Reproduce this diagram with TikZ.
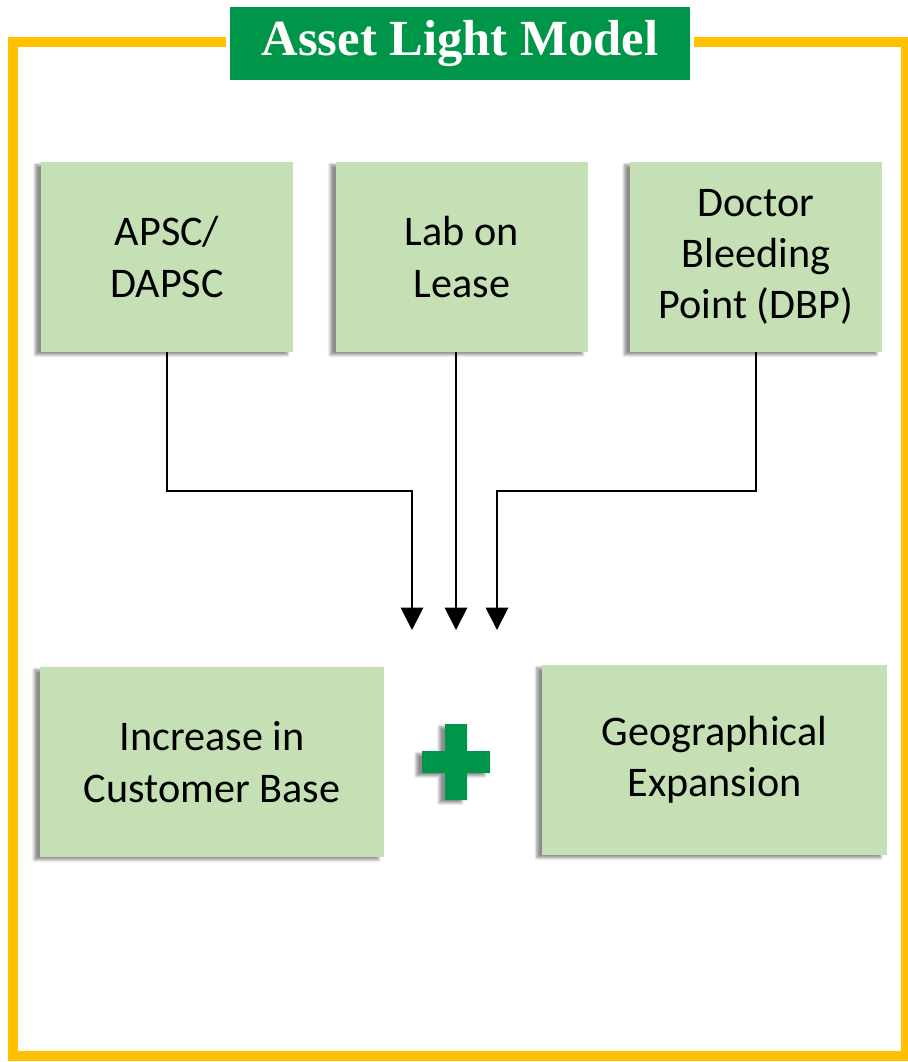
\documentclass[tikz,border=0pt]{standalone}
\usepackage{fontspec}
\setmainfont{Carlito}
\newfontfamily\titlefont{Liberation Serif}
\usetikzlibrary{arrows.meta,shadows.blur}

\definecolor{framey}{RGB}{255,192,0}
\definecolor{boxg}{RGB}{197,224,180}
\definecolor{darkg}{RGB}{0,150,73}

\begin{document}
\begin{tikzpicture}[
    x=0.025cm, y=-0.025cm,
    box/.style={
        fill=boxg,
        minimum width=6.3cm,
        minimum height=4.75cm,
        align=center,
        anchor=center,
        font=\fontsize{30}{36.5}\selectfont,
        blur shadow={shadow xshift=-4pt, shadow yshift=-2pt, shadow opacity=45, shadow blur steps=6}
    },
    title/.style={
        fill=darkg,
        draw=white,
        line width=3pt,
        text=white,
        minimum width=11.6cm,
        minimum height=1.925cm,
        font=\titlefont\bfseries\fontsize{36}{42}\selectfont
    },
    arrow/.style={-{Triangle[length=16pt,width=16pt]}, line width=1.4pt}
]
\useasboundingbox (0,0) rectangle (907,1062);

% Yellow frame
\draw[framey, line width=7pt] (13,42) rectangle (906,1056);

% Title
\node[title] (head) at (460,43.5) {Asset Light Model};

% Top row
\node[box] (apsc) at (167,257) {APSC/\\DAPSC};
\node[box] (lab)  at (462,257) {Lab on\\Lease};
\node[box] (dbp)  at (756,257) {Doctor\\Bleeding\\Point (DBP)};

% Arrow ends
\coordinate (inL) at (412,630);
\coordinate (inM) at (456,630);
\coordinate (inR) at (497,630);

% Connectors
\draw[arrow] (apsc.south)        -- ++(0,139) -| (inL);
\draw[arrow] (lab.south -| inM)  -- (inM);
\draw[arrow] (dbp.south)         -- ++(0,139) -| (inR);

% Bottom row
\node[box, minimum width=8.6cm] (cust) at (212,762) {Increase in\\Customer Base};
\node[box, minimum width=8.6cm] (geo)  at (714.5,760) {Geographical\\Expansion};

% Plus sign
\fill[darkg, blur shadow={shadow xshift=-4pt, shadow yshift=-2pt, shadow opacity=45, shadow blur steps=6}]
    (445,724) -- (467,724) -- (467,751) -- (490,751) -- (490,773) -- (467,773)
    -- (467,800) -- (445,800) -- (445,773) -- (422,773) -- (422,751) -- (445,751) -- cycle;

\end{tikzpicture}
\end{document}
